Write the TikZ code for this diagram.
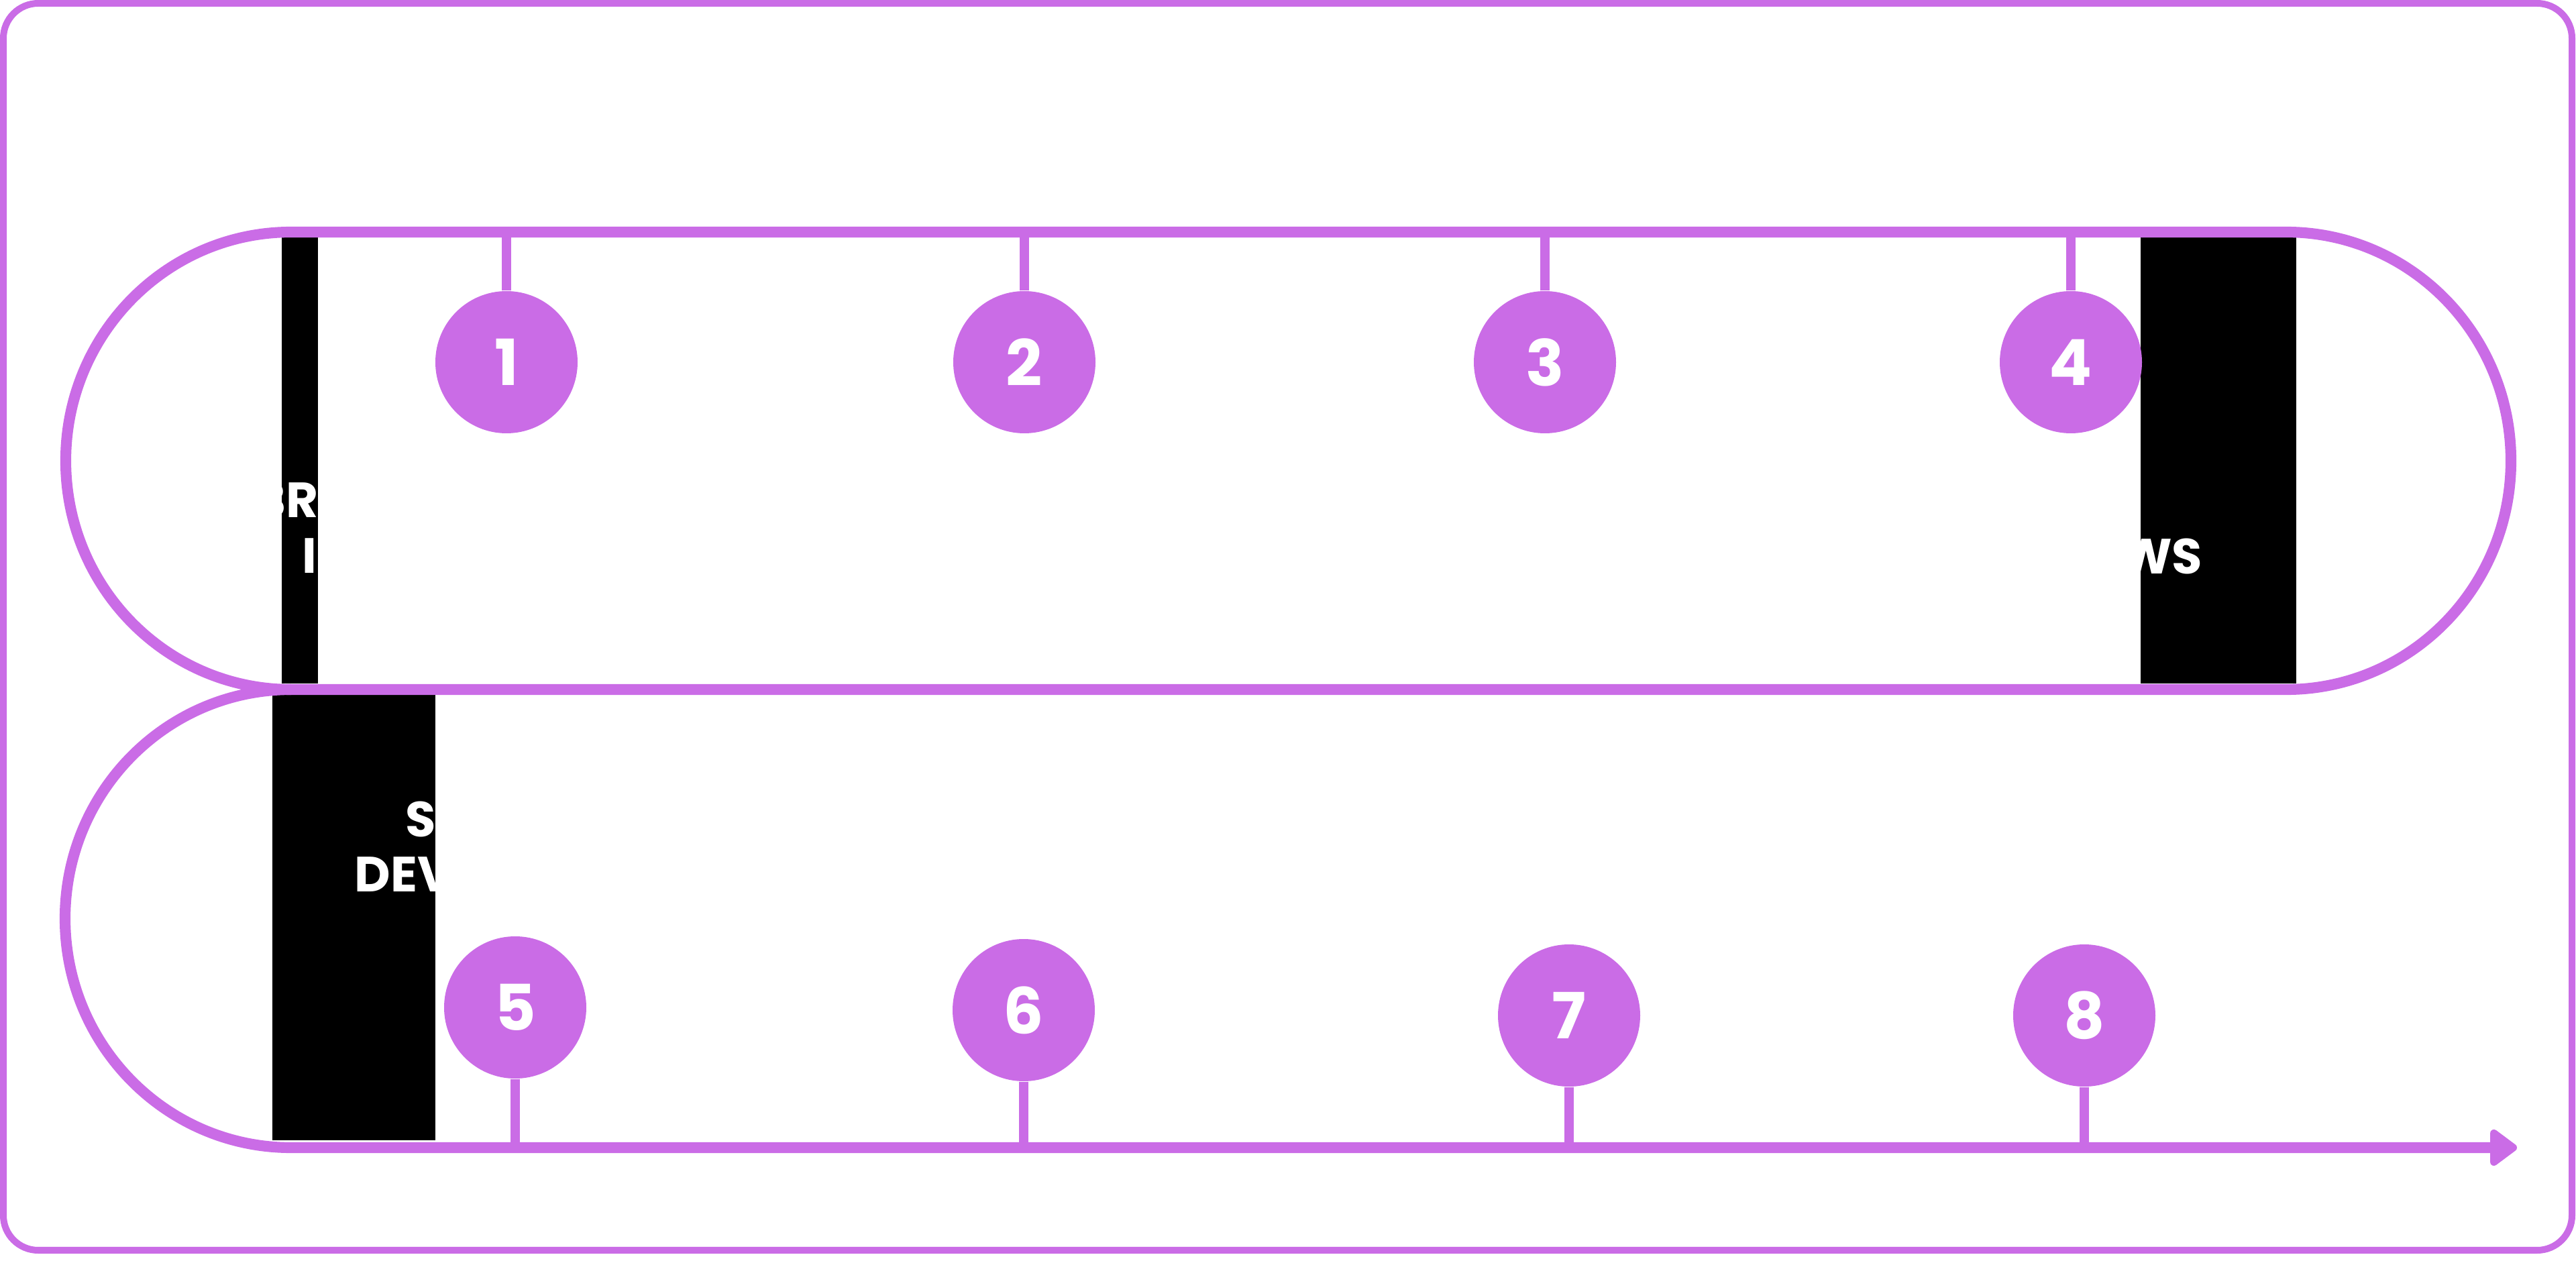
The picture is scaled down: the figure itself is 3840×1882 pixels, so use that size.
\documentclass[tikz,border=0pt]{standalone}
\usepackage{fontspec}
\setmainfont{Poppins}
\usetikzlibrary{arrows.meta}
\definecolor{roadpurple}{RGB}{202,108,230}

\begin{document}
\begin{tikzpicture}[x=0.1mm, y=0.1mm, >=Triangle,
  track/.style={draw=roadpurple, line width=4.6pt},
  stem/.style={draw=roadpurple, line width=4.2pt},
  stepnum/.style={circle, fill=roadpurple, minimum size=21.2mm, inner sep=0pt, text=white,
    font=\bfseries\fontsize{27pt}{27pt}\selectfont},
  panel/.style={fill=black},
  lbl/.style={text=white, inner sep=0pt, font=\bfseries\fontsize{21pt}{24pt}\selectfont}]
  % Fix the page size
  \useasboundingbox (0,0) rectangle (3840,1882);

  % Draw the outer frame
  \draw[roadpurple, line width=2.85pt, rounded corners=5.2mm] (5,18) rectangle (3834,1877);

  % Draw the black panels
  \fill[panel] (420,863) rectangle (474,1528);
  \fill[panel] (406,182) rectangle (649,847);
  \fill[panel] (3191,863) rectangle (3423,1528);

  % Draw the parts of the texts that show on the panels
  \begin{scope}
    \clip (420,863) rectangle (474,1528);
    \node[lbl, anchor=base west] (brandA) at (377,1110) {BRA};
    \node[lbl, anchor=base west] (brandB) at (450,1027) {I};
  \end{scope}
  \begin{scope}
    \clip (406,182) rectangle (649,847);
    \node[lbl, anchor=base west] (stratA) at (604,635) {ST};
    \node[lbl, anchor=base west] (stratB) at (528,553) {DEV};
  \end{scope}
  \begin{scope}
    \clip (3191,863) rectangle (3423,1528);
    \node[lbl, anchor=base east] (reviewB) at (3284,1026) {WS};
  \end{scope}

  % Draw the closed upper loop of the track
  \draw[track] (434,1536) -- (3408,1536)
    arc[start angle=90, end angle=-90, x radius=335, y radius=341] -- (434,854)
    arc[start angle=270, end angle=90, x radius=336, y radius=341] -- cycle;

  % Draw the lower bend and the last run with the arrow
  \draw[track, -{Triangle[length=4.4mm, width=6.2mm, round]}] (434,854)
    arc[start angle=90, end angle=270, x radius=337, y radius=341.5] -- (3752,171);

  % Draw the numbered steps
  \node[stepnum] (s1) at (755,1342) {1};
  \node[stepnum] (s2) at (1527,1342) {2};
  \node[stepnum] (s3) at (2303,1342) {3};
  \node[stepnum] (s4) at (3087,1342) {4};
  \node[stepnum] (s5) at (768,380) {5};
  \node[stepnum] (s6) at (1526,376) {6};
  \node[stepnum] (s7) at (2339,368) {7};
  \node[stepnum] (s8) at (3107,368) {8};

  % Points where the steps hang on the track
  \coordinate (t1) at (755,1536);
  \coordinate (t2) at (1527,1536);
  \coordinate (t3) at (2303,1536);
  \coordinate (t4) at (3087,1536);
  \coordinate (t5) at (768,171);
  \coordinate (t6) at (1526,171);
  \coordinate (t7) at (2339,171);
  \coordinate (t8) at (3107,171);

  % Draw the stems
  \foreach \i in {1,...,8}
    \draw[stem] (s\i) -- (t\i);
\end{tikzpicture}
\end{document}
